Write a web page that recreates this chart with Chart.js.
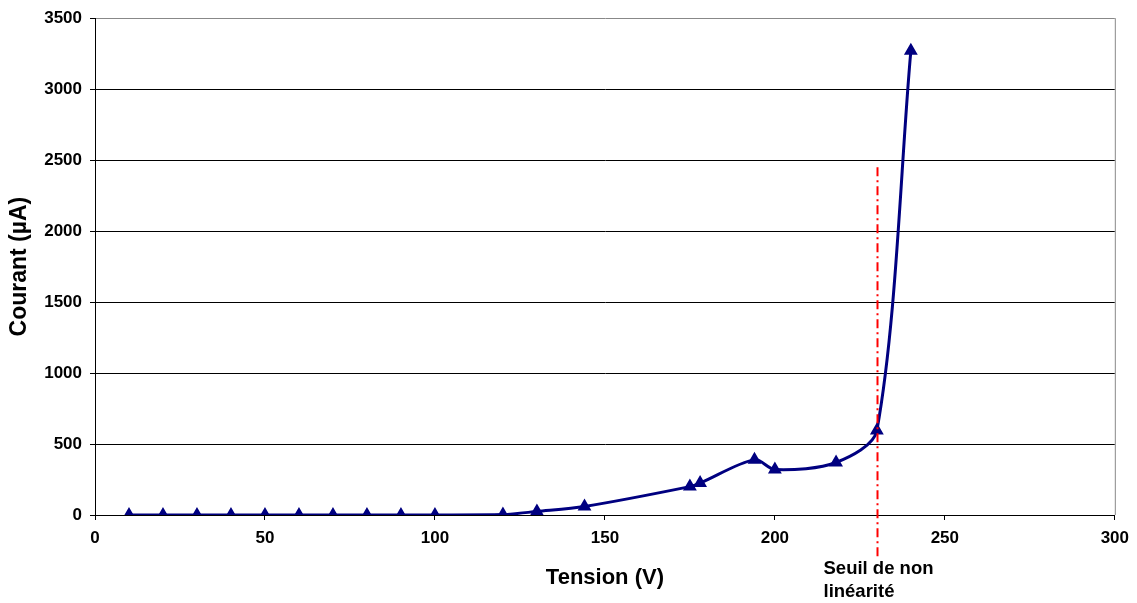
<!DOCTYPE html>
<html>
<head>
<meta charset="utf-8">
<script src="https://cdn.jsdelivr.net/npm/chart.js@4"></script>
<style>
html,body{margin:0;padding:0;background:#fff;}
#wrap{width:1137px;height:603px;position:relative;}
</style>
</head>
<body>
<div id="wrap"><canvas id="c" width="1137" height="603"></canvas></div>
<script>
const tension = [10, 20, 30, 40, 50, 60, 70, 80, 90, 100, 120, 130, 144, 175, 178, 194, 200, 218, 230, 240];
const courant = [0, 0, 0, 0, 0, 0, 0, 0, 0, 0, 3, 25, 60, 200, 225, 390, 320, 370, 595, 3270];
const xTicks = [0, 50, 100, 150, 200, 250, 300];
const yTicks = [0, 500, 1000, 1500, 2000, 2500, 3000, 3500];
const seuilV = 230;
const seuilTop = 2450;
const seuilLabel = ["Seuil de non", "linéarité"];

const FONT = "'Liberation Sans', Arial, sans-serif";

const seuilPlugin = {
  id: 'seuil',
  afterDatasetsDraw(chart) {
    const {ctx, scales: {x, y}} = chart;
    const px = Math.round(x.getPixelForValue(seuilV)) + 0.5;
    const yTop = y.getPixelForValue(seuilTop);
    const yBot = y.bottom + 45;
    ctx.save();
    ctx.strokeStyle = '#ff0000';
    ctx.lineWidth = 2;
    ctx.setLineDash([9, 4, 2, 4]);
    ctx.beginPath();
    ctx.moveTo(px, yTop);
    ctx.lineTo(px, yBot);
    ctx.stroke();
    ctx.setLineDash([]);
    ctx.fillStyle = '#000';
    ctx.font = 'bold 18.5px ' + FONT;
    ctx.textBaseline = 'middle';
    ctx.textAlign = 'left';
    ctx.fillText(seuilLabel[0], px - 54, y.bottom + 54);
    ctx.fillText(seuilLabel[1], px - 54, y.bottom + 77);
    // right border of plot area
    ctx.strokeStyle = '#888';
    ctx.lineWidth = 1;
    ctx.beginPath();
    ctx.moveTo(x.right + 0.5, y.top);
    ctx.lineTo(x.right + 0.5, y.bottom);
    ctx.stroke();
    ctx.restore();
  }
};

new Chart(document.getElementById('c'), {
  type: 'line',
  data: {
    datasets: [{
      data: tension.map((v, i) => ({x: v, y: courant[i]})),
      borderColor: '#000080',
      backgroundColor: '#000080',
      borderWidth: 3,
      pointStyle: 'triangle',
      pointRadius: 5,
      pointBackgroundColor: '#000080',
      pointBorderColor: '#000080',
      tension: 0.3,
      fill: false
    }]
  },
  options: {
    responsive: false,
    animation: false,
    layout: {autoPadding: false, padding: {top: 15, right: 21, bottom: 0, left: 0}},
    plugins: {legend: {display: false}, tooltip: {enabled: false}},
    scales: {
      x: {
        type: 'linear',
        min: 0, max: 300,
        afterBuildTicks: s => { s.ticks = xTicks.map(v => ({value: v})); },
        afterFit: s => { s.height = 88; },
        ticks: {color: '#000', font: {family: FONT, size: 17, weight: 'bold'}, padding: 8, maxRotation: 0,
                callback: v => String(v)},
        grid: {drawOnChartArea: false, color: '#000', tickLength: 5, tickColor: '#000'},
        border: {color: '#000', width: 1},
        title: {display: true, text: 'Tension (V)', color: '#000', font: {family: FONT, size: 22, weight: 'bold'}, padding: {top: 0, bottom: 12}}
      },
      y: {
        min: 0, max: 3500,
        afterBuildTicks: s => { s.ticks = yTicks.map(v => ({value: v})); },
        afterFit: s => { s.width = 95; },
        ticks: {color: '#000', font: {family: FONT, size: 17, weight: 'bold'}, padding: 8,
                callback: v => String(v)},
        grid: {
          color: ctx => (ctx.tick && ctx.tick.value === 3500) ? '#888' : '#000',
          tickLength: 5, tickColor: '#000'
        },
        border: {color: '#000', width: 1},
        title: {display: true, text: 'Courant (µA)', color: '#000', font: {family: FONT, size: 23, weight: 'bold'}, padding: {top: 6, bottom: 0}}
      }
    }
  },
  plugins: [seuilPlugin]
});
</script>
</body>
</html>
